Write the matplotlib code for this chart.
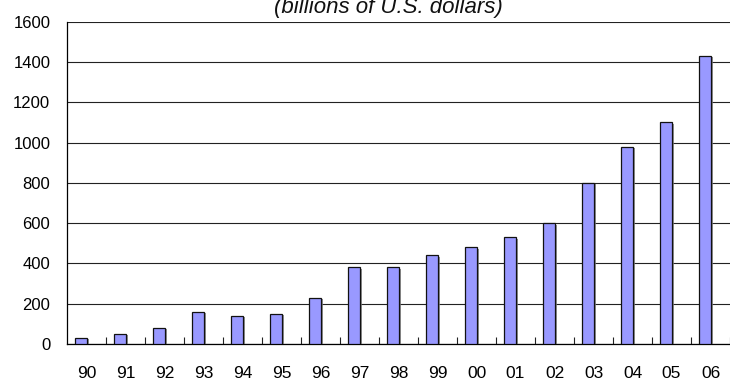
import matplotlib
matplotlib.use("Agg")
import matplotlib.pyplot as plt
import matplotlib.patheffects as pe
import numpy as np

years = ["90", "91", "92", "93", "94", "95", "96", "97", "98",
         "99", "00", "01", "02", "03", "04", "05", "06"]
values = [30, 50, 80, 160, 140, 150, 230, 380, 380,
          440, 480, 530, 600, 800, 980, 1100, 1430]
yticks = [0, 200, 400, 600, 800, 1000, 1200, 1400, 1600]

plt.rcParams["font.family"] = ["Liberation Sans", "DejaVu Sans"]

fig = plt.figure(figsize=(7.30, 3.81), dpi=100)
ax = fig.add_axes([0.0918, 0.097, 0.9082, 0.846])

x = np.arange(len(years))
bars = ax.bar(x - 0.14, values, width=0.3, color="#9999ff",
              edgecolor="#111111", linewidth=0.9, zorder=3)
for b in bars:
    b.set_path_effects([pe.SimplePatchShadow(offset=(1.2, -1), shadow_rgbFace="#777777", alpha=0.8),
                        pe.Normal()])

ax.set_xlim(-0.5, len(years) - 0.5)
ax.set_ylim(0, 1600)
ax.set_yticks(yticks)
ax.set_yticklabels([str(v) for v in yticks], fontsize=12)
ax.tick_params(axis="y", length=0, pad=12)

# labels centred in each category, small ticks on the category boundaries
ax.set_xticks(x)
ax.set_xticklabels(years, fontsize=12.5)
ax.set_xticks(np.arange(len(years)) + 0.5, minor=True)
ax.tick_params(axis="x", which="major", length=0, pad=16)
ax.tick_params(axis="x", which="minor", direction="in", length=5, width=0.8, color="#222222")

ax.yaxis.grid(True, color="#222222", linewidth=0.8, zorder=0)
ax.set_axisbelow(True)
for s in ["top", "right"]:
    ax.spines[s].set_visible(False)
ax.spines["left"].set_linewidth(0.9)
ax.spines["bottom"].set_linewidth(0.9)

fig.text(0.532, 0.967, "(billions of U.S. dollars)", ha="center", va="baseline",
         fontsize=16, style="italic", color="#111111")

fig.savefig("out.png", dpi=100)
